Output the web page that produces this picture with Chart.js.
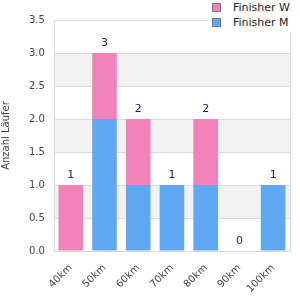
<!DOCTYPE html>
<html>
<head>
<meta charset="utf-8">
<script src="https://cdn.jsdelivr.net/npm/chart.js@4"></script>
<style>
  body { margin: 0; background: #fff; }
  #wrap { position: relative; width: 300px; height: 300px; }
  #legend { position: absolute; left: 208px; top: 0; width: 92px; height: 32px; background: #fff;
            font: 11px "DejaVu Sans", sans-serif; color: #222; }
  #legend div { position: absolute; left: 4px; height: 14px; line-height: 14px; white-space: nowrap; }
  #legend span { display: inline-block; width: 7px; height: 7px; border: 1px solid #777; margin-right: 12px; vertical-align: -1px; }
</style>
</head>
<body>
<div id="wrap">
  <canvas id="c" width="300" height="300"></canvas>
  <div id="legend"></div>
</div>
<script>
const categories = ['40km', '50km', '60km', '70km', '80km', '90km', '100km'];
const finisherM = [0, 2, 1, 1, 1, 0, 1];
const finisherW = [1, 1, 1, 0, 1, 0, 0];
const yTicks = [0, 0.5, 1, 1.5, 2, 2.5, 3, 3.5];

const colorW = '#f283b8';
const colorM = '#60a8f2';

// Legend (W on top, M below)
const legend = document.getElementById('legend');
[['Finisher W', colorW, 1], ['Finisher M', colorM, 16]].forEach(function (it) {
    const d = document.createElement('div');
    d.style.top = it[2] + 'px';
    d.innerHTML = '<span style="background:' + it[1] + '"></span>' + it[0];
    legend.appendChild(d);
});

const bandsPlugin = {
    id: 'bands',
    beforeDraw(chart) {
        const ctx = chart.ctx, a = chart.chartArea, y = chart.scales.y;
        ctx.save();
        ctx.fillStyle = '#f2f2f2';
        for (let i = 1; i < yTicks.length - 1; i += 2) {
            const top = y.getPixelForValue(yTicks[i + 1]);
            const bot = y.getPixelForValue(yTicks[i]);
            ctx.fillRect(a.left, top, a.right - a.left, bot - top);
        }
        ctx.restore();
    },
    afterDraw(chart) {
        const ctx = chart.ctx, a = chart.chartArea, y = chart.scales.y;
        const meta = chart.getDatasetMeta(0);
        ctx.save();
        ctx.strokeStyle = '#dcdcdc';
        ctx.lineWidth = 1;
        ctx.strokeRect(Math.round(a.left) + 0.5, Math.round(a.top) + 0.5, Math.round(a.right - a.left), Math.round(a.bottom - a.top));
        ctx.fillStyle = '#1a1a80';
        ctx.font = '11px "DejaVu Sans", sans-serif';
        ctx.textAlign = 'center';
        ctx.textBaseline = 'bottom';
        categories.forEach(function (c, i) {
            const total = finisherM[i] + finisherW[i];
            ctx.fillText(String(total), meta.data[i].x, y.getPixelForValue(total) - 4);
        });
        ctx.restore();
    }
};

new Chart(document.getElementById('c'), {
    type: 'bar',
    data: {
        labels: categories,
        datasets: [
            { label: 'Finisher M', data: finisherM, backgroundColor: colorM, stack: 's' },
            { label: 'Finisher W', data: finisherW, backgroundColor: colorW, stack: 's' }
        ]
    },
    options: {
        responsive: false,
        animation: false,
        layout: { padding: { top: 20, right: 10, left: 0, bottom: 2 } },
        datasets: { bar: { categoryPercentage: 1, barPercentage: 0.73 } },
        plugins: { legend: { display: false }, tooltip: { enabled: false } },
        scales: {
            x: {
                stacked: true,
                grid: { display: false },
                border: { display: false },
                ticks: {
                    color: '#444', maxRotation: 45, minRotation: 45,
                    font: { family: 'DejaVu Sans', size: 10 }
                }
            },
            y: {
                stacked: true,
                min: 0, max: 3.5,
                afterBuildTicks(axis) { axis.ticks = yTicks.map(v => ({ value: v })); },
                grid: { color: '#dcdcdc', drawTicks: false },
                border: { display: false },
                ticks: {
                    color: '#444', padding: 9,
                    font: { family: 'DejaVu Sans', size: 10 },
                    callback: v => Number(v).toFixed(1)
                },
                title: {
                    display: true, text: 'Anzahl Läufer', color: '#444',
                    font: { family: 'DejaVu Sans', size: 10 }, padding: { top: 0, bottom: 8 }
                }
            }
        }
    },
    plugins: [bandsPlugin]
});
</script>
</body>
</html>
